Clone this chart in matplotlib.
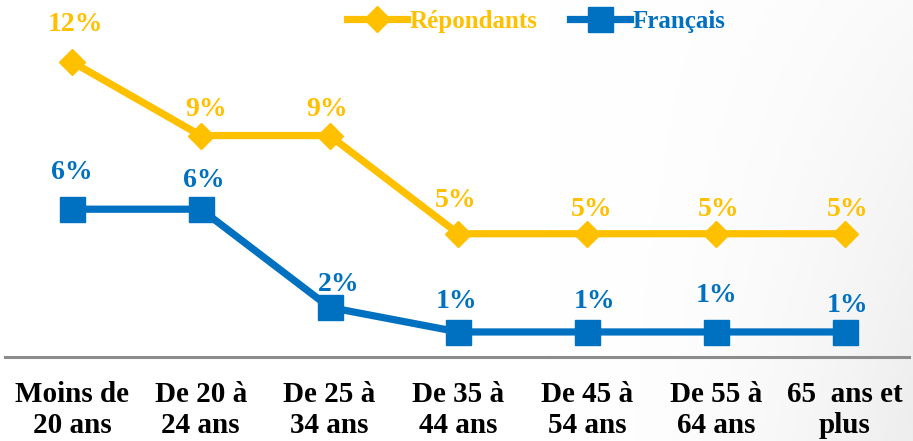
import matplotlib
matplotlib.use("Agg")
import matplotlib.pyplot as plt
import numpy as np

categories = ["Moins de\n20 ans", "De 20 à\n24 ans", "De 25 à\n34 ans", "De 35 à\n44 ans",
              "De 45 à\n54 ans", "De 55 à\n64 ans", "65  ans et\nplus"]
repondants = [12, 9, 9, 5, 5, 5, 5]
francais = [6, 6, 2, 1, 1, 1, 1]

# label offsets (pixels above point) - styling only
rep_off = [37, 26, 26, 33, 24, 24, 24]
fr_off = [37, 29, 23, 30, 30, 36, 26]
rep_dx = [3, 5, -3, -3, 4, 3, 3]
fr_dx = [0, 3, 9, -2, 7, 1, 3]

YEL = "#FFC000"
BLU = "#0070C0"
FONT = "Liberation Serif"

fig = plt.figure(figsize=(9.13, 4.41), dpi=100)
W, H = 913, 441

# subtle background shading toward the bottom-right corner
bg = fig.add_axes([0, 0, 1, 1], zorder=-10)
gx, gy = np.meshgrid(np.linspace(0, 1, 200), np.linspace(0, 1, 100))
d = np.clip((gx - 0.6) / 0.4, 0, 1) ** 2 * np.clip(0.3 + 0.7 * gy, 0, 1)
shade = 1 - 0.07 * d
bg.imshow(np.dstack([shade, shade, shade]), aspect="auto", extent=[0, 1, 0, 1],
          origin="upper")
bg.set_axis_off()

x0px, step = 72, 128.8
left_px, right_px = 5, 909
zero_px, unit = 356.5, 24.55
ymax = 14
ax = fig.add_axes([left_px / W, (H - zero_px) / H, (right_px - left_px) / W, ymax * unit / H])
ax.patch.set_alpha(0)
ax.set_xlim((left_px - x0px) / step, (right_px - x0px) / step)
ax.set_ylim(0, ymax)

xs = list(range(len(categories)))
ax.plot(xs, repondants, color=YEL, lw=5.2, marker="D", ms=13, mec=YEL, mfc=YEL,
        label="Répondants", solid_joinstyle="round", zorder=3)
ax.plot(xs, francais, color=BLU, lw=5.2, marker="s", ms=18, mec=BLU, mfc=BLU,
        label="Français", solid_joinstyle="round", zorder=3)

for i, v in enumerate(repondants):
    ax.annotate(f"{v}%", (i, v), xytext=(rep_dx[i] * 0.72, rep_off[i] * 0.72),
                textcoords="offset points", ha="center", va="center",
                color=YEL, fontsize=20, fontweight="bold", family=FONT)
for i, v in enumerate(francais):
    ax.annotate(f"{v}%", (i, v), xytext=(fr_dx[i] * 0.72, fr_off[i] * 0.72),
                textcoords="offset points", ha="center", va="center",
                color=BLU, fontsize=20, fontweight="bold", family=FONT)

for s in ["top", "left", "right"]:
    ax.spines[s].set_visible(False)
ax.spines["bottom"].set_color("#8C8C8C")
ax.spines["bottom"].set_linewidth(2.2)
ax.set_yticks([])
ax.set_xticks(xs)
ax.set_xticklabels(categories, fontsize=21, fontweight="bold", family=FONT,
                   linespacing=1.16)
ax.tick_params(axis="x", length=0, pad=18)

leg = fig.legend(loc="center", bbox_to_anchor=(0.587, 0.952), ncol=2, frameon=False,
                 prop={"family": FONT, "weight": "bold", "size": 18},
                 handlelength=2.4, handletextpad=0.1, columnspacing=1.3)
for t, c in zip(leg.get_texts(), [YEL, BLU]):
    t.set_color(c)

fig.savefig("out.png", dpi=100)
